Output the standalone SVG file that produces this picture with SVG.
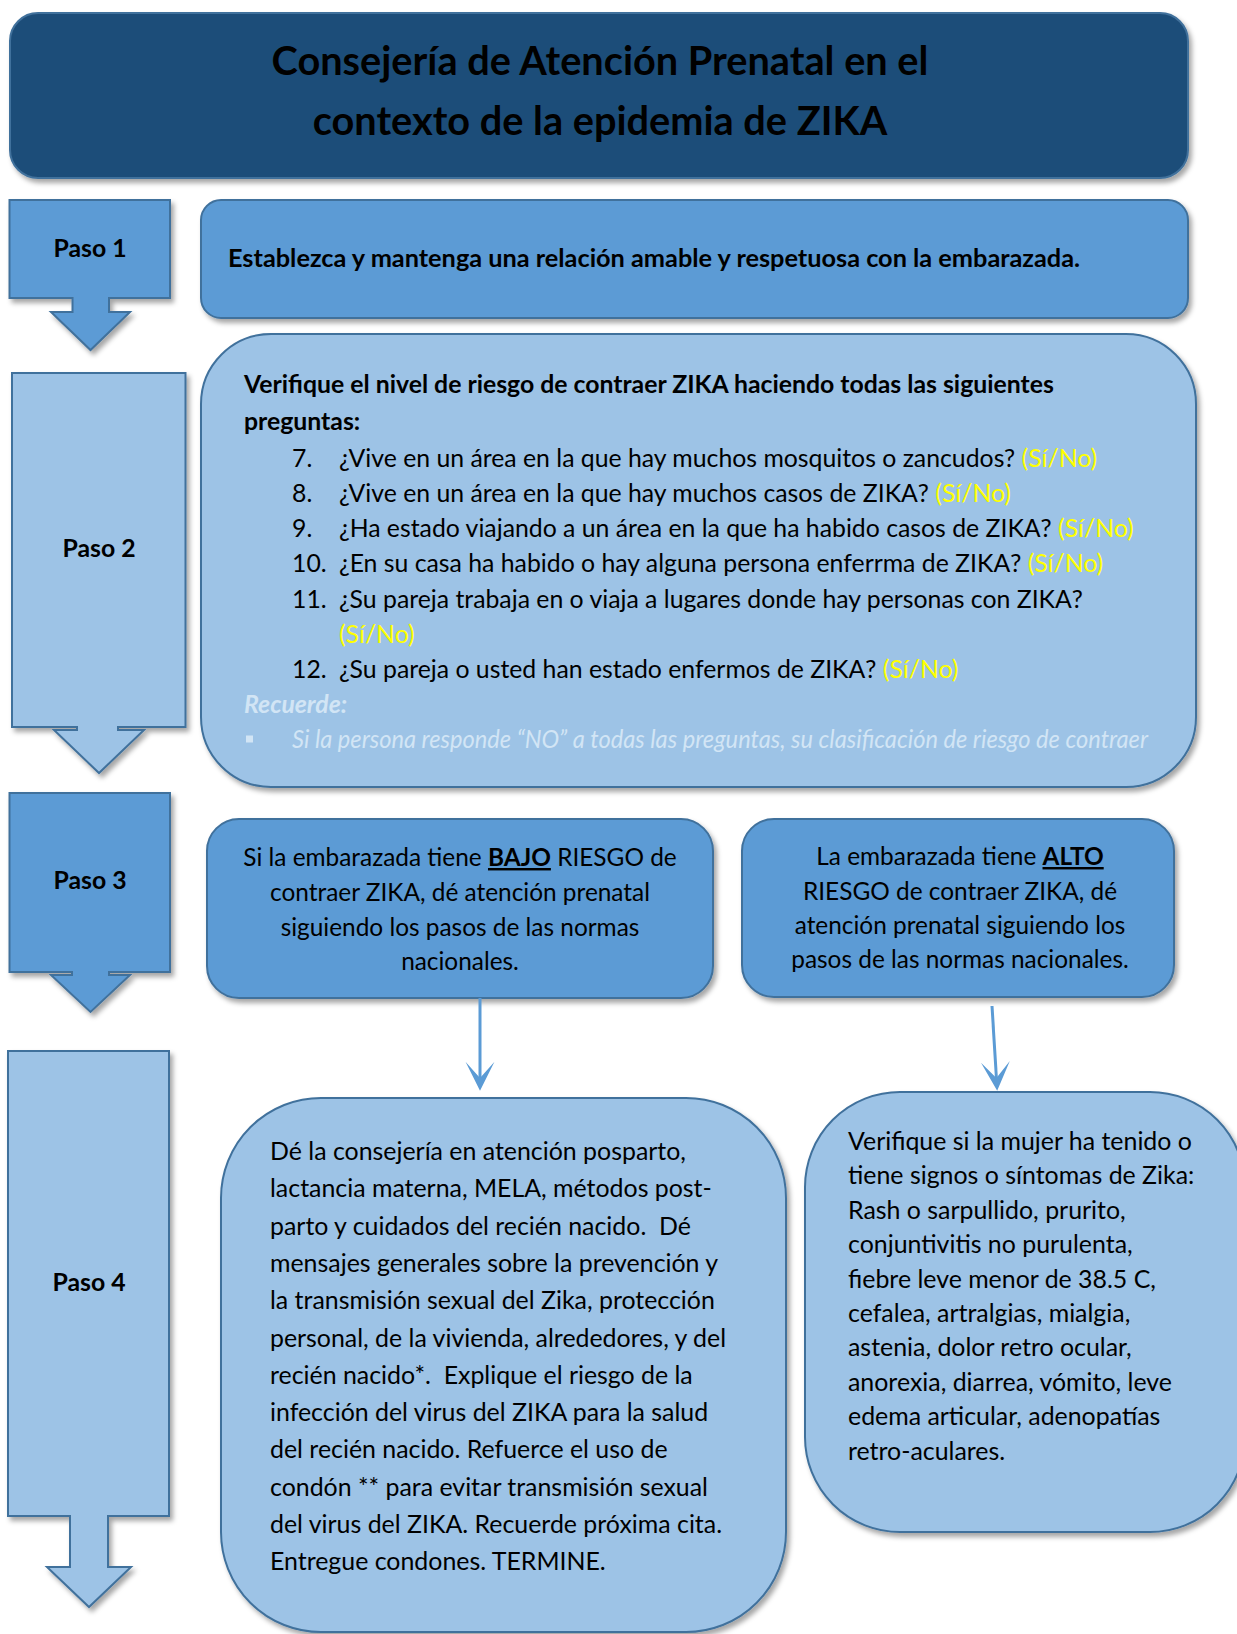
<svg xmlns="http://www.w3.org/2000/svg" width="1237" height="1634" viewBox="0 0 1237 1634">
<style>
  text { font-family: Lato, "Liberation Sans", sans-serif; fill: #000; white-space: pre; }
  .title { font-size: 39.7px; font-weight: bold; text-anchor: middle; }
  .paso { font-size: 24.8px; font-weight: bold; text-anchor: middle; }
  .b24 { font-size: 25.3px; font-weight: bold; }
  .s2 { font-size: 24.8px; }
  .s2b { font-size: 24.8px; font-weight: bold; }
  .yn { fill: #FFFF00; }
  .light { fill: #D2E5F5; font-style: italic; }
  .c24 { font-size: 24.4px; text-anchor: middle; }
  .t24 { font-size: 24.9px; }
  .ul { font-weight: bold; text-decoration: underline; }
  .dark { fill: #1F4E79; stroke: #41719C; stroke-width: 2; }
  .mid { fill: #5B9BD5; stroke: #41719C; stroke-width: 2; }
  .pale { fill: #9DC3E6; stroke: #41719C; stroke-width: 2; }
  .conn { stroke: #5B9BD5; stroke-width: 3; fill: none; }
</style>
<defs>
  <filter id="sh" x="-10%" y="-10%" width="125%" height="125%">
    <feDropShadow dx="3" dy="4" stdDeviation="2.5" flood-color="#000" flood-opacity="0.35"/>
  </filter>
  <marker id="ah" markerUnits="userSpaceOnUse" markerWidth="30" markerHeight="30" viewBox="0 -13 26 26" refX="14" refY="0" orient="auto">
    <path d="M25,0 L0,-12.5 L14,0 L0,12.5 Z" fill="#5B9BD5"/>
  </marker>
</defs>

<g id="title">
  <rect class="dark" x="10" y="13" width="1178" height="165" rx="28" filter="url(#sh)"/>
  <text class="title" x="600" y="75">Consejería de Atención Prenatal en el</text>
  <text class="title" x="600" y="135">contexto de la epidemia de ZIKA</text>
</g>

<g id="paso1">
  <path class="mid" filter="url(#sh)" d="M9.5,200 H170 V298 H109 V312 H130 L90.5,350 L51,312 H72.5 V298 H9.5 Z"/>
  <text class="paso" x="90" y="257">Paso 1</text>
</g>

<g id="step1">
  <rect class="mid" x="201" y="200" width="987" height="118" rx="20" filter="url(#sh)"/>
  <text class="b24" x="228" y="267">Establezca y mantenga una relación amable y respetuosa con la embarazada.</text>
</g>

<g id="paso2">
  <path class="pale" filter="url(#sh)" d="M12,373 H185.5 V727 H118 V730 H144 L99,773 L54,730 H77 V727 H12 Z"/>
  <text class="paso" x="99" y="557">Paso 2</text>
</g>

<g id="step2">
  <rect class="pale" x="201" y="334" width="995" height="453" rx="70" filter="url(#sh)"/>
  <text class="s2b" x="244" y="393">Verifique el nivel de riesgo de contraer ZIKA haciendo todas las siguientes</text>
  <text class="s2b" x="244" y="430">preguntas:</text>
  <text class="s2" x="292" y="467">7.</text>
  <text class="s2" x="339" y="467">¿Vive en un área en la que hay muchos mosquitos o zancudos? <tspan class="yn">(Sí/No)</tspan></text>
  <text class="s2" x="292" y="502">8.</text>
  <text class="s2" x="339" y="502">¿Vive en un área en la que hay muchos casos de ZIKA? <tspan class="yn">(Sí/No)</tspan></text>
  <text class="s2" x="292" y="537">9.</text>
  <text class="s2" x="339" y="537">¿Ha estado viajando a un área en la que ha habido casos de ZIKA? <tspan class="yn">(Sí/No)</tspan></text>
  <text class="s2" x="292" y="572">10.</text>
  <text class="s2" x="339" y="572">¿En su casa ha habido o hay alguna persona enferrma de ZIKA? <tspan class="yn">(Sí/No)</tspan></text>
  <text class="s2" x="292" y="608">11.</text>
  <text class="s2" x="339" y="608">¿Su pareja trabaja en o viaja a lugares donde hay personas con ZIKA?</text>
  <text class="s2 yn" x="339" y="643">(Sí/No)</text>
  <text class="s2" x="292" y="678">12.</text>
  <text class="s2" x="339" y="678">¿Su pareja o usted han estado enfermos de ZIKA? <tspan class="yn">(Sí/No)</tspan></text>
  <text class="s2b light" x="244" y="713">Recuerde:</text>
  <rect x="246" y="735.5" width="7" height="7" fill="#D2E5F5"/>
  <text class="s2 light" x="292" y="748" textLength="856" lengthAdjust="spacingAndGlyphs">Si la persona responde “NO” a todas las preguntas, su clasificación de riesgo de contraer</text>
</g>

<g id="paso3">
  <path class="mid" filter="url(#sh)" d="M9.5,793 H170 V972 H109 V975 H130 L90.5,1012 L51,975 H72 V972 H9.5 Z"/>
  <text class="paso" x="90" y="889">Paso 3</text>
</g>

<g id="bajo">
  <rect class="mid" x="207" y="819" width="506" height="179" rx="32" filter="url(#sh)"/>
  <text class="c24" x="460" y="866">Si la embarazada tiene <tspan class="ul">BAJO</tspan> RIESGO de</text>
  <text class="c24" x="460" y="901">contraer ZIKA, dé atención prenatal</text>
  <text class="c24" x="460" y="936">siguiendo los pasos de las normas</text>
  <text class="c24" x="460" y="970">nacionales.</text>
</g>

<g id="alto">
  <rect class="mid" x="742" y="819" width="432" height="178" rx="32" filter="url(#sh)"/>
  <text class="c24" x="960" y="865">La embarazada tiene <tspan class="ul">ALTO</tspan></text>
  <text class="c24" x="960" y="900">RIESGO de contraer ZIKA, dé</text>
  <text class="c24" x="960" y="934">atención prenatal siguiendo los</text>
  <text class="c24" x="960" y="968">pasos de las normas nacionales.</text>
</g>

<g id="paso4">
  <path class="pale" filter="url(#sh)" d="M8,1051 H169 V1516 H108 V1567 H131 L89,1607 L47,1567 H70 V1516 H8 Z"/>
  <text class="paso" x="89" y="1291">Paso 4</text>
</g>

<g id="consejeria">
  <rect class="pale" x="221" y="1098" width="565" height="534" rx="100" filter="url(#sh)"/>
  <text class="t24" x="270" y="1160">Dé la consejería en atención posparto,</text>
  <text class="t24" x="270" y="1197.3">lactancia materna, MELA, métodos post-</text>
  <text class="t24" x="270" y="1234.6">parto y cuidados del recién nacido.  Dé</text>
  <text class="t24" x="270" y="1271.9">mensajes generales sobre la prevención y</text>
  <text class="t24" x="270" y="1309.2">la transmisión sexual del Zika, protección</text>
  <text class="t24" x="270" y="1346.5">personal, de la vivienda, alrededores, y del</text>
  <text class="t24" x="270" y="1383.8">recién nacido*.  Explique el riesgo de la</text>
  <text class="t24" x="270" y="1421.1">infección del virus del ZIKA para la salud</text>
  <text class="t24" x="270" y="1458.4">del recién nacido. Refuerce el uso de</text>
  <text class="t24" x="270" y="1495.7">condón ** para evitar transmisión sexual</text>
  <text class="t24" x="270" y="1533">del virus del ZIKA. Recuerde próxima cita.</text>
  <text class="t24" x="270" y="1570.3">Entregue condones. TERMINE.</text>
</g>

<g id="sintomas">
  <rect class="pale" x="805" y="1092" width="440" height="440" rx="95" filter="url(#sh)"/>
  <text class="t24" x="848" y="1150">Verifique si la mujer ha tenido o</text>
  <text class="t24" x="848" y="1184.4">tiene signos o síntomas de Zika:</text>
  <text class="t24" x="848" y="1218.8">Rash o sarpullido, prurito,</text>
  <text class="t24" x="848" y="1253.2">conjuntivitis no purulenta,</text>
  <text class="t24" x="848" y="1287.6">fiebre leve menor de 38.5 C,</text>
  <text class="t24" x="848" y="1322">cefalea, artralgias, mialgia,</text>
  <text class="t24" x="848" y="1356.4">astenia, dolor retro ocular,</text>
  <text class="t24" x="848" y="1390.8">anorexia, diarrea, vómito, leve</text>
  <text class="t24" x="848" y="1425.2">edema articular, adenopatías</text>
  <text class="t24" x="848" y="1459.6">retro-aculares.</text>
</g>

<g id="connectors">
  <line class="conn" x1="480" y1="998" x2="480" y2="1078" marker-end="url(#ah)"/>
  <line class="conn" x1="992" y1="1006" x2="996.4" y2="1078" marker-end="url(#ah)"/>
</g>
</svg>
